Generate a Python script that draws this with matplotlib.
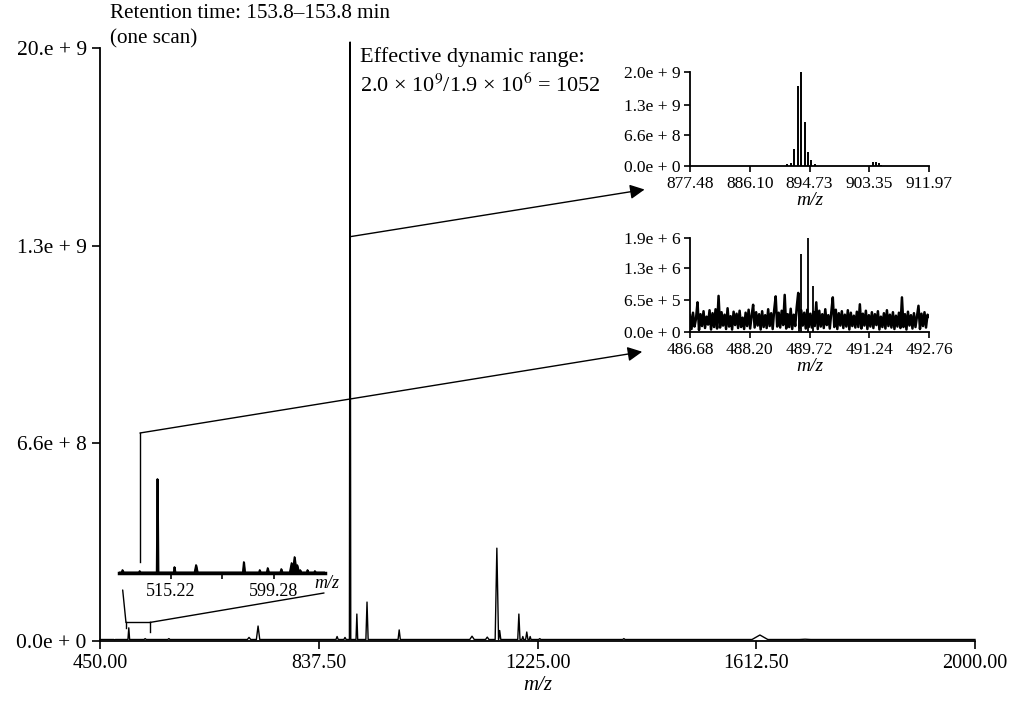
import numpy as np
import matplotlib
matplotlib.use("Agg")
import matplotlib.pyplot as plt

plt.rcParams["font.family"] = ["Liberation Serif", "DejaVu Serif"]
plt.rcParams["mathtext.fontset"] = "stix"

# Main spectrum: peak m/z, intensity and half width (m/z)
main_mz = [476, 501, 530, 572, 714, 730, 870, 884, 893, 905, 923, 980,
           1109, 1136, 1153, 1158, 1192, 1199, 1206, 1212, 1229, 1378, 1619, 1699]
main_int = [4e6, 4.4e7, 8e6, 8e6, 1.2e7, 5.0e7, 1.5e7, 1.2e7, 2.0e9, 9.0e7, 1.3e8, 3.7e7,
            1.6e7, 1.3e7, 3.1e8, 3.5e7, 9.0e7, 1.5e7, 3.0e7, 1.5e7, 8e6, 8e6, 2.0e7, 6e6]
main_w = [1.5, 1.5, 2, 2, 3, 3, 2, 2, 1.2, 1.5, 2, 2,
          4, 3, 3, 2, 2, 1.5, 2, 1.5, 2, 2, 14, 10]
main_base = 5e6
main_xticks = [450.00, 837.50, 1225.00, 1612.50, 2000.00]
main_yticks = [0, 6.6e8, 1.32e9, 1.98e9]
main_ylabels = ["0.0e + 0", "6.6e + 8", "1.3e + 9", "20.e + 9"]

# Inset 1 (zoom on 877-912)
ins1_mz = [891.5, 892.0, 892.54, 893.02, 893.50, 894.03, 894.51, 894.99, 895.5,
           903.9, 904.3, 904.7, 905.1]
ins1_int = [4e7, 7e7, 3.7e8, 1.7e9, 2.0e9, 9.4e8, 3.0e8, 1.3e8, 4e7,
            9e7, 9e7, 7e7, 3e7]
ins1_xticks = [877.48, 886.10, 894.73, 903.35, 911.97]
ins1_yticks = [0, 6.6e8, 1.3e9, 2.0e9]
ins1_ylabels = ["0.0e + 0", "6.6e + 8", "1.3e + 9", "2.0e + 9"]

# Inset 2 (noise level, 486.68-492.76), noise read in units of 1e5
ins2_noise = [3.4, 0.6, 3.9, 1.1, 2.7, 6.0, 0.4, 3.6, 1.2, 4.2,
              0.8, 3.1, 1.5, 4.4, 0.5, 3.8, 1.0, 4.6, 0.7, 7.3,
              0.9, 4.0, 1.3, 3.5, 0.6, 4.8, 1.1, 3.2, 0.5, 4.1,
              1.4, 3.7, 0.8, 4.3, 1.0, 2.9, 0.6, 3.9, 1.2, 4.5,
              0.7, 3.3, 5.5, 0.9, 4.0, 1.3, 3.6, 0.5, 4.2, 1.0,
              3.4, 0.8, 4.6, 1.2, 3.8, 0.6, 4.4, 7.2, 1.1, 3.9,
              0.9, 4.3, 1.4, 7.5, 0.7, 3.6, 1.0, 4.7, 0.6, 3.5,
              1.2, 5.0, 7.9, 0.8, 4.4, 1.3, 3.9, 0.7, 4.5, 1.0,
              3.7, 0.9, 4.1, 1.2, 6.0, 0.6, 4.3, 1.1, 3.6, 0.8,
              4.6, 1.4, 3.4, 0.7, 4.0, 7.0, 1.0, 4.5, 0.6, 3.8,
              1.3, 4.2, 0.8, 3.5, 1.1, 4.4, 0.5, 3.9, 1.2, 3.3,
              0.9, 4.1, 1.0, 5.6, 0.7, 3.7, 1.3, 4.3, 0.6, 3.4,
              1.1, 4.0, 0.8, 3.6, 1.4, 4.2, 0.5, 3.1, 1.0, 3.8,
              0.7, 4.4, 1.2, 3.5, 0.9, 4.0, 0.6, 3.3, 1.1, 3.9,
              0.8, 7.0, 1.0, 3.6, 0.5, 4.1, 1.3, 3.4, 0.7, 3.8,
              1.0, 3.2, 5.3, 0.6, 3.7, 1.2, 4.0, 0.9, 3.5, 3.1]
ins2_peak_mz = [489.46, 489.51, 489.67, 489.82]
ins2_peak_int = [7.9e5, 1.57e6, 1.9e6, 9.2e5]
ins2_xticks = [486.68, 488.20, 489.72, 491.24, 492.76]
ins2_yticks = [0, 6.5e5, 1.3e6, 1.9e6]
ins2_ylabels = ["0.0e + 0", "6.5e + 5", "1.3e + 6", "1.9e + 6"]

# Inset 3 (low m/z region, relative heights)
ins3_mz = [476.0, 490.0, 504.5, 518.4, 536.0, 575.0, 588.0, 594.5, 605.6,
           614.0, 616.4, 618.5, 621.0, 627.0, 633.0]
ins3_int = [3, 2, 94, 6, 8, 11, 3, 5, 4, 10, 16, 8, 3, 3, 2]
ins3_w = [0.8, 0.6, 0.6, 0.6, 1.2, 0.8, 0.6, 0.8, 0.8, 1.5, 1.5, 1.5, 0.6, 0.6, 0.6]
ins3_xticks = [515.22, 557.25, 599.28]
ins3_xlabels = ["515.22", "", "599.28"]


def profile(mzs, ints, widths, lo, hi, base):
    xs, ys = [lo], [base]
    for m, h, w in sorted(zip(mzs, ints, widths)):
        xs += [m - w, m, m + w]
        ys += [base, h, base]
    xs.append(hi)
    ys.append(base)
    return xs, ys


fig = plt.figure(figsize=(10.12, 7.03), dpi=100)
W, H = 1012, 703


def box(l, t, r, b):
    return [l / W, 1 - b / H, (r - l) / W, (b - t) / H]


# Main axes
ax = fig.add_axes(box(100, 48, 975, 641))
xs, ys = profile(main_mz, main_int, main_w, 450, 2000, main_base)
ax.plot(xs, ys, color="black", lw=1.0, clip_on=False)
ax.set_xlim(450, 2000)
ax.set_ylim(0, 1.98e9)
ax.set_xticks(main_xticks)
ax.set_xticklabels(["%.2f" % t for t in main_xticks])
ax.set_yticks(main_yticks)
ax.set_yticklabels(main_ylabels)
ax.tick_params(axis="x", labelsize=14.5, length=6, width=1.2, direction="out")
ax.tick_params(axis="y", labelsize=15.5, length=6, width=1.2, direction="out")
ax.set_xlabel("m/z", fontsize=15, style="italic", labelpad=2)
for s in ["top", "right"]:
    ax.spines[s].set_visible(False)
for s in ["left", "bottom"]:
    ax.spines[s].set_linewidth(1.3)


def inset_style(a, size=12.5):
    for s in ["top", "right"]:
        a.spines[s].set_visible(False)
    for s in ["left", "bottom"]:
        a.spines[s].set_linewidth(1.3)
    a.tick_params(labelsize=size, length=4, width=1.2, direction="out", pad=3)
    a.patch.set_alpha(0)


# Inset 1
ins1 = fig.add_axes(box(690, 72, 929, 166))
ins1.vlines(ins1_mz, 0, ins1_int, color="black", lw=1.4)
ins1.set_xlim(877.48, 911.97)
ins1.set_ylim(0, 2.0e9)
ins1.set_xticks(ins1_xticks)
ins1.set_xticklabels(["%.2f" % t for t in ins1_xticks])
ins1.set_yticks(ins1_yticks)
ins1.set_yticklabels(ins1_ylabels)
inset_style(ins1)
ins1.set_xlabel("m/z", fontsize=14, style="italic", labelpad=0)

# Inset 2
ins2 = fig.add_axes(box(690, 238, 929, 332))
nx = np.linspace(486.68, 492.76, len(ins2_noise))
ins2.plot(nx, np.array(ins2_noise) * 1e5, color="black", lw=1.8)
ins2.vlines(ins2_peak_mz, 0, ins2_peak_int, color="black", lw=1.3)
ins2.set_xlim(486.68, 492.76)
ins2.set_ylim(0, 1.9e6)
ins2.set_xticks(ins2_xticks)
ins2.set_xticklabels(["%.2f" % t for t in ins2_xticks])
ins2.set_yticks(ins2_yticks)
ins2.set_yticklabels(ins2_ylabels)
inset_style(ins2)
ins2.set_xlabel("m/z", fontsize=14, style="italic", labelpad=0)

# Inset 3
ins3 = fig.add_axes(box(119, 473, 325, 573))
xs3, ys3 = profile(ins3_mz, ins3_int, ins3_w, 473.19, 641.31, 0.6)
ins3.fill_between(xs3, 0, ys3, color="black", lw=1.2)
ins3.plot(xs3, ys3, color="black", lw=1.2)
ins3.set_xlim(473.19, 641.31)
ins3.set_ylim(0, 100)
ins3.set_xticks(ins3_xticks)
ins3.set_xticklabels(ins3_xlabels)
ins3.set_yticks([])
inset_style(ins3, 13)
ins3.spines["left"].set_visible(False)
ins3.spines["bottom"].set_linewidth(2.5)
fig.text(327 / W, 1 - 584 / H, "m/z", fontsize=13, style="italic", ha="center", va="center")

# Connecting lines and arrows
arrow = dict(arrowstyle="-|>", color="black", lw=1.0, mutation_scale=22, shrinkA=0, shrinkB=0)
plain = dict(arrowstyle="-", color="black", lw=1.0, shrinkA=0, shrinkB=0)
ax.annotate("", xy=(-0.19, -0.25), xycoords=ins1.transAxes,
            xytext=(893, 1.35e9), textcoords=ax.transData, arrowprops=arrow)
ax.annotate("", xy=(-0.2, -0.21), xycoords=ins2.transAxes,
            xytext=(490.3, 140), textcoords=ins3.transData, arrowprops=arrow)
ins3.plot([490.3, 490.3], [140, 11], color="black", lw=1.0, clip_on=False)
# bracket on the main spectrum
ax.plot([496, 538.6], [6.2e7, 6.2e7], color="black", lw=1.0)
ax.plot([496, 496], [6.2e7, 4.4e7], color="black", lw=1.0)
ax.plot([538.6, 538.6], [6.2e7, 3.0e7], color="black", lw=1.0)
ax.annotate("", xy=(476.2, -17), xycoords=ins3.transData,
            xytext=(496, 6.2e7), textcoords=ax.transData, arrowprops=plain)
ax.annotate("", xy=(640.5, -20), xycoords=ins3.transData,
            xytext=(538.6, 6.2e7), textcoords=ax.transData, arrowprops=plain)

# Texts
fig.text(110 / W, 1 - 14 / H, "Retention time: 153.8\u2013153.8 min", fontsize=15.2, va="center")
fig.text(110 / W, 1 - 39 / H, "(one scan)", fontsize=15.2, va="center")
fig.text(360 / W, 1 - 57 / H, "Effective dynamic range:", fontsize=16, va="center")
fig.text(360 / W, 1 - 85 / H, "2.0 \u00d7 10$^{9}$/1.9 \u00d7 10$^{6}$ = 1052", fontsize=16, va="center")

fig.savefig("out.png", dpi=100)
